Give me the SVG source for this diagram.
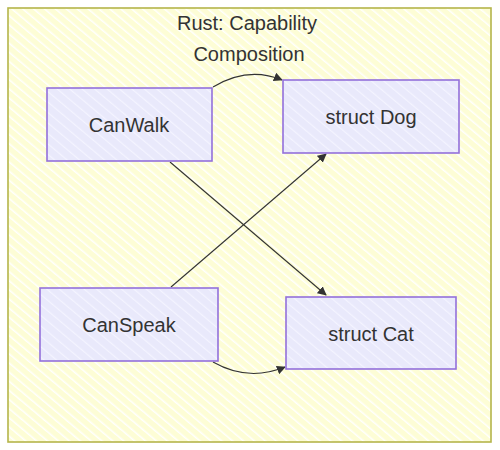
<svg xmlns="http://www.w3.org/2000/svg" width="500" height="450" viewBox="0 0 500 450">
<defs>
<pattern id="hatchY" patternUnits="userSpaceOnUse" width="7" height="7" patternTransform="rotate(-50)">
<rect width="7" height="7" fill="#fdfdd6"/>
<line x1="0" y1="0" x2="0" y2="7" stroke="#ffffff" stroke-width="3"/>
</pattern>
<pattern id="hatchN" patternUnits="userSpaceOnUse" width="8" height="8" patternTransform="rotate(-50)">
<rect width="8" height="8" fill="#e9e9fb"/>
<line x1="0" y1="0" x2="0" y2="8" stroke="#f4f4ff" stroke-width="2.5"/>
</pattern>
<marker id="arrow" viewBox="0 0 10 10" refX="9" refY="5" markerWidth="9" markerHeight="9" markerUnits="userSpaceOnUse" orient="auto">
<path d="M0,0 L10,5 L0,10 z" fill="#333333"/>
</marker>
<style>
.node rect{fill:url(#hatchN);stroke:#9370db;stroke-width:1.6}
.label{font-family:"Liberation Sans",Arial,sans-serif;font-size:20px;fill:#333333;text-anchor:middle;dominant-baseline:central}
.edge{fill:none;stroke:#333333;stroke-width:1.1;marker-end:url(#arrow)}
</style>
</defs>
<rect x="0" y="0" width="500" height="450" fill="#ffffff"/>
<g id="cluster">
<rect x="8" y="8" width="483" height="434" fill="url(#hatchY)" stroke="#b5b54a" stroke-width="1.6"/>
<text class="label" x="247" y="23">Rust: Capability</text>
<text class="label" x="249" y="54">Composition</text>
</g>
<g id="edges">
<path class="edge" d="M213,87 Q248,66 282,80"/>
<path class="edge" d="M170,162 L326,295"/>
<path class="edge" d="M171,287 L326,154"/>
<path class="edge" d="M213,362 Q248,382 285,367"/>
</g>
<g id="CanWalk" class="node">
<rect x="47" y="88" width="165" height="73"/>
<text class="label" x="129" y="125">CanWalk</text>
</g>
<g id="StructDog" class="node">
<rect x="283" y="80" width="176" height="73"/>
<text class="label" x="371" y="117">struct Dog</text>
</g>
<g id="CanSpeak" class="node">
<rect x="40" y="288" width="178" height="73"/>
<text class="label" x="129" y="325">CanSpeak</text>
</g>
<g id="StructCat" class="node">
<rect x="286" y="297" width="170" height="72"/>
<text class="label" x="371" y="334">struct Cat</text>
</g>
</svg>
